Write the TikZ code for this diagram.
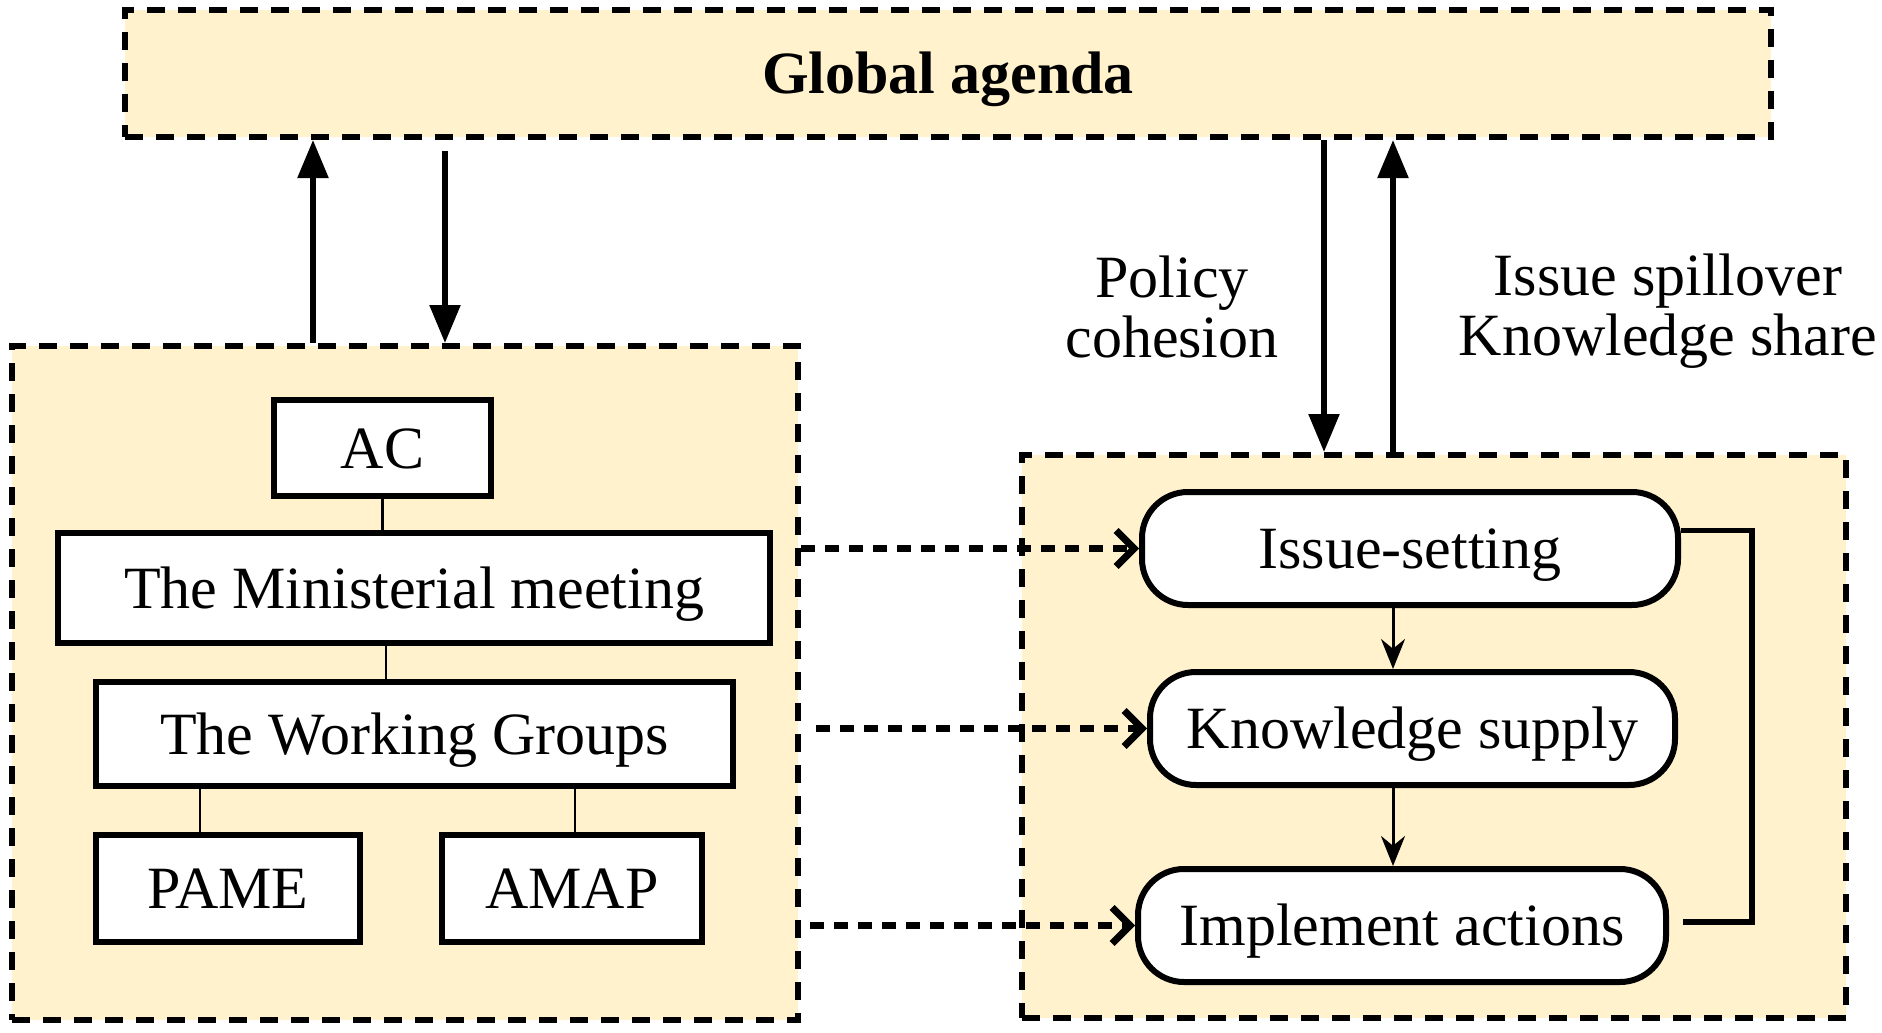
\documentclass[tikz,border=0pt]{standalone}
\usepackage{fontspec}
\setmainfont{Liberation Serif}
\usetikzlibrary{arrows.meta}
\definecolor{boxfill}{HTML}{FFF2CC}
\begin{document}
\begin{tikzpicture}[x=1pt,y=-1pt,
  group/.style={draw, fill=boxfill, line width=6pt, dash pattern=on 18pt off 13pt, inner sep=0pt},
  rectbox/.style={draw, fill=white, line width=6pt, inner sep=0pt, text height=46pt, text depth=6pt, font=\fontsize{60}{62}\selectfont},
  roundbox/.style={rectbox, rounded corners=46pt},
  lbl/.style={align=center, font=\fontsize{60}{60}\selectfont},
  treeline/.style={line width=2.5pt},
  bigarrow/.style={line width=5.5pt, -{Triangle[length=38pt,width=30pt]}},
  thinarrow/.style={line width=3pt, -{Stealth[length=30pt,width=24pt]}},
  dasharrow/.style={line width=7pt, dash pattern=on 14pt off 10pt, -{Straight Barb[length=18pt,width=36pt]}},
  fbline/.style={line width=5.5pt}
]
\useasboundingbox (0,0) rectangle (1882,1033);
\fill[white] (0,0) rectangle (1882,1033);

% group boxes
\node[group, minimum width=1646pt, minimum height=127pt, text height=46pt, text depth=6pt, font=\fontsize{60}{62}\selectfont\bfseries] (global) at (948,73.5) {Global agenda};
\node[group, minimum width=786pt, minimum height=674pt] (leftbox) at (405,683) {};
\node[group, minimum width=824pt, minimum height=563pt] (rightbox) at (1434,736.5) {};

% left tree
\node[rectbox, minimum width=217pt, minimum height=96pt] (ac) at (382.5,448) {AC};
\node[rectbox, minimum width=712pt, minimum height=110pt] (mm) at (414,588) {The Ministerial meeting};
\node[rectbox, minimum width=637pt, minimum height=104pt] (wg) at (414.5,734) {The Working Groups};
\node[rectbox, minimum width=264pt, minimum height=107pt] (pame) at (228,888.5) {PAME};
\node[rectbox, minimum width=260pt, minimum height=107pt] (amap) at (572,888.5) {AMAP};

% right process
\node[roundbox, minimum width=536pt, minimum height=113pt] (issue) at (1410,548.5) {Issue-setting};
\node[roundbox, minimum width=525pt, minimum height=113pt] (know) at (1412.5,728.5) {Knowledge supply};
\node[roundbox, minimum width=528pt, minimum height=113pt] (impl) at (1402,925.5) {Implement actions};

% labels
\node[lbl] (pc) at (1172,307) {Policy\\cohesion};
\node[lbl] (isk) at (1668,311) {Issue spillover\\Knowledge share};

% helper coordinates
\coordinate (lu) at (313,0);
\coordinate (ldstart) at (445,151);
\coordinate (rd) at (1324,0);
\coordinate (ru) at (1393,0);
\coordinate (ax) at (1393,0);
\coordinate (t1) at (386,0);
\coordinate (t2) at (200,0);
\coordinate (t3) at (575,0);
\coordinate (d2) at (816,0);
\coordinate (d3) at (810,0);
\coordinate (fb) at (1752,0);
\coordinate (fbA) at ([yshift=18pt]issue.east);
\coordinate (fbB) at ([yshift=3.5pt]impl.east);

% tree connectors
\draw[treeline] (ac.south) -- (ac.south |- mm.north);
\draw[treeline] (mm.south -| t1) -- (wg.north -| t1);
\draw[treeline] (wg.south -| t2) -- (pame.north -| t2);
\draw[treeline] (wg.south -| t3) -- (amap.north -| t3);

% big arrows
\draw[bigarrow] (leftbox.north -| lu) -- (global.south -| lu);
\draw[bigarrow] (ldstart) -- (leftbox.north -| ldstart);
\draw[bigarrow] (global.south -| rd) -- (rightbox.north -| rd);
\draw[bigarrow] (rightbox.north -| ru) -- (global.south -| ru);

% inner arrows
\draw[thinarrow] (issue.south -| ax) -- (know.north -| ax);
\draw[thinarrow] (know.south -| ax) -- (impl.north -| ax);

% feedback
\draw[fbline] (fbA) -- (fbA -| fb) -- (fbB -| fb) -- ([xshift=14pt]fbB);

% dashed arrows
\draw[dasharrow] (leftbox.east |- issue.west) -- (issue.west);
\draw[dasharrow] (d2 |- know.west) -- (know.west);
\draw[dasharrow] (d3 |- impl.west) -- (impl.west);
\end{tikzpicture}
\end{document}
